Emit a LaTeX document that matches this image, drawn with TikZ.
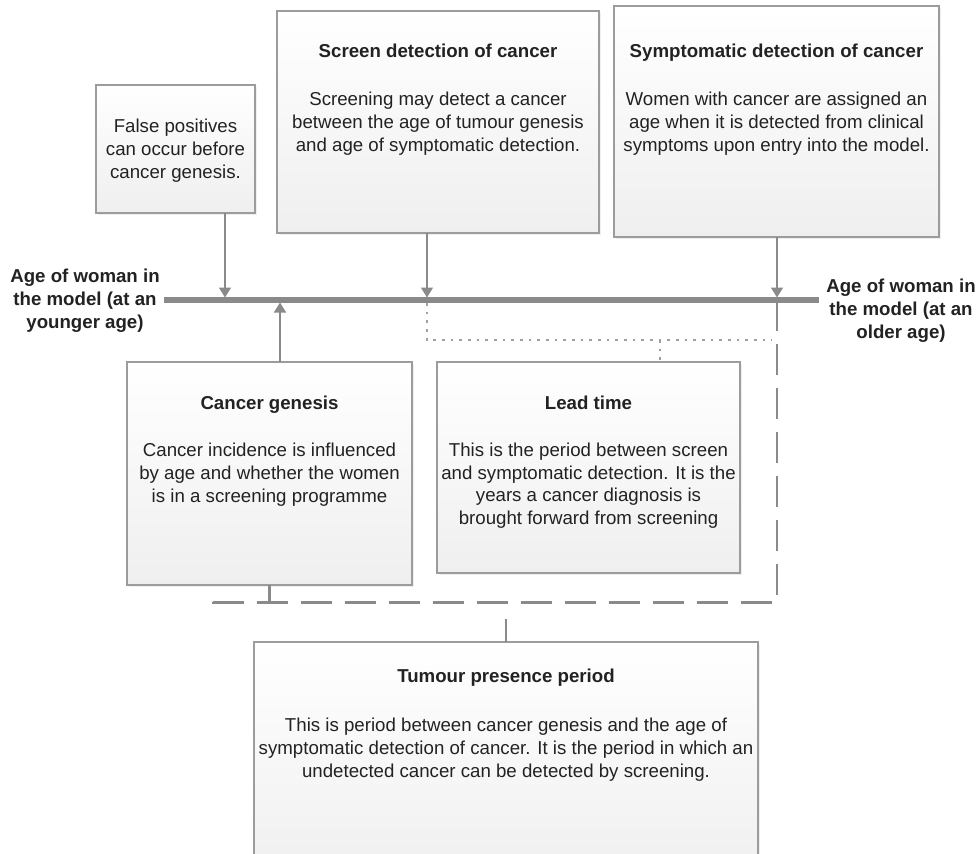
\documentclass[tikz,border=0pt]{standalone}
\usepackage{fontspec}
\setmainfont{Liberation Sans}
\usetikzlibrary{arrows.meta,shadows}
\definecolor{linegray}{HTML}{8A8A8A}
\definecolor{boxline}{HTML}{9C9C9C}
\definecolor{txt}{HTML}{222222}
\definecolor{boxbot}{HTML}{EFEFEF}
\definecolor{dotgray}{HTML}{A0A0A0}
\begin{document}
\begin{tikzpicture}[x=0.75pt,y=-0.75pt,
  box/.style={draw=boxline,line width=0.9pt,inner sep=0pt,outer sep=0pt,
    top color=white,bottom color=boxbot,
    drop shadow={opacity=0.12,shadow xshift=1.5pt,shadow yshift=-1.5pt}},
  ttl/.style={font=\bfseries\fontsize{14}{16.9}\selectfont,text=txt,anchor=base,align=center,inner sep=0pt},
  bd/.style={font=\fontsize{14}{16.9}\selectfont,text=txt,anchor=base,align=center,inner sep=0pt},
  arr/.style={draw=linegray,line width=1.1pt,-{Triangle[width=9pt,length=7.5pt,fill=linegray]}},
  stub/.style={draw=linegray,line width=2pt},
  brk/.style={draw=linegray,line width=2pt,dash pattern=on 23pt off 10pt},
  dotl/.style={draw=dotgray,line width=0.8pt,dash pattern=on 2pt off 4.5pt},
  tline/.style={draw=linegray,line width=3.9pt}]
\clip (0,0) rectangle (977,853);
\fill[white] (0,0) rectangle (977,853);

% boxes
\node[box,minimum width=119.25pt,minimum height=96pt] (fp) at (175.5,149) {};
\node[box,minimum width=241.5pt,minimum height=166.5pt] (sd) at (438,122) {};
\node[box,minimum width=243.75pt,minimum height=173.25pt] (sy) at (776.5,121.5) {};
\node[box,minimum width=213.75pt,minimum height=167.25pt] (cg) at (269.5,473.5) {};
\node[box,minimum width=227.25pt,minimum height=158.25pt] (lt) at (588.5,467.5) {};
\node[box,minimum width=378pt,minimum height=178.5pt] (tp) at (506,761) {};

% texts (multi-line nodes: base = last line's baseline)
\node[bd] (fptxt) at (175.5,178) {False positives\\can occur before\\cancer genesis.};
\node[ttl] (sdttl) at (438,57.5) {Screen detection of cancer};
\node[bd] (sdtxt) at (438,151) {Screening may detect a cancer\\between the age of tumour genesis\\and age of symptomatic detection.};
\node[ttl] (syttl) at (776.5,57.5) {Symptomatic detection of cancer};
\node[bd] (sytxt) at (776.5,151) {Women with cancer are assigned an\\age when it is detected from clinical\\symptoms upon entry into the model.};
\node[ttl] (cgttl) at (269.5,409) {Cancer genesis};
\node[bd] (cgtxt) at (269.5,502) {Cancer incidence is influenced\\by age and whether the women\\is in a screening programme};
\node[ttl] (ltttl) at (588.5,409) {Lead time};
\node[bd] (lttxt) at (588.5,524.5) {This is the period between screen\\and symptomatic detection. It is the\\years a cancer diagnosis is\\brought forward from screening};
\node[ttl] (tpttl) at (506,682) {Tumour presence period};
\node[bd] (tptxt) at (506,777) {This is period between cancer genesis and the age of\\symptomatic detection of cancer. It is the period in which an\\undetected cancer can be detected by screening.};
\node[ttl] (ageL) at (85,328) {Age of woman in\\the model (at an\\younger age)};
\node[ttl] (ageR) at (901,338) {Age of woman in\\the model (at an\\older age)};

% timeline
\coordinate (tlL) at (164,300);
\coordinate (tlR) at (819,300);
\draw[tline] (tlL) -- (tlR);

% coordinates on timeline
\coordinate (fpT) at (225,297.5);
\coordinate (sdT) at (427,297.5);
\coordinate (syT) at (777,297.5);
\coordinate (cgT) at (280,302.5);

% dotted lead-time bracket
\coordinate (dA) at (427,303);
\coordinate (dB) at (427,340);
\coordinate (dC) at (772,340);
\coordinate (ltS) at (660,340);
\draw[dotl] (dA) -- (dB) -- (dC);
\draw[dotl] (ltS) -- (ltS |- lt.north);

% dashed tumour presence bracket
\coordinate (brD) at (777,300);
\coordinate (brC) at (777,602.5);
\coordinate (brB) at (213,602.5);
\coordinate (brA) at (213,593);
\draw[brk] (brD) -- (brC) -- (brB) -- (brA);
\draw[stub] (cg.south) -- (cg.south |- brB);
\coordinate (tpS) at (506,619);
\draw[stub] (tpS) -- (tp.north);

% arrows
\draw[arr] (fpT |- fp.south) -- (fpT);
\draw[arr] (sdT |- sd.south) -- (sdT);
\draw[arr] (syT |- sy.south) -- (syT);
\draw[arr] (cgT |- cg.north) -- (cgT);
\end{tikzpicture}
\end{document}
